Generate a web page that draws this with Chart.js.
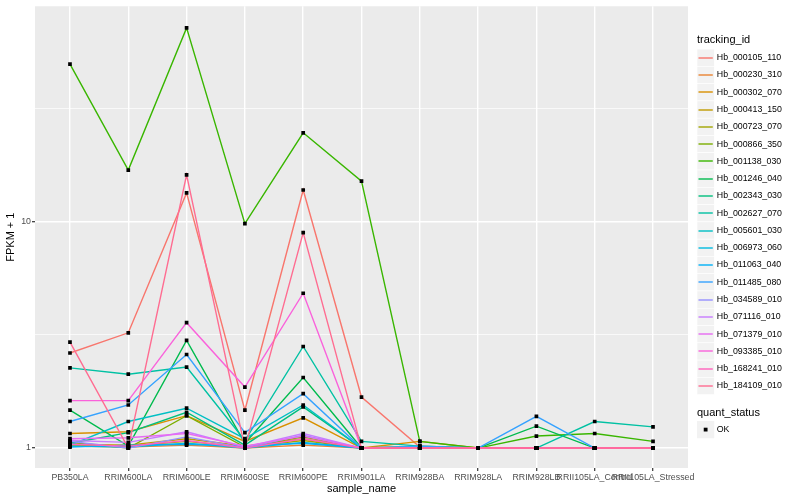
<!DOCTYPE html>
<html>
<head>
<meta charset="utf-8">
<script src="https://cdn.jsdelivr.net/npm/chart.js@4"></script>
<style>
  body { margin: 0; background: #fff; }
  #wrap { width: 800px; height: 500px; }
</style>
</head>
<body>
<div id="wrap"><canvas id="fpkmChart" width="800" height="500"></canvas></div>
<script>
const samples = ['PB350LA', 'RRIM600LA', 'RRIM600LE', 'RRIM600SE', 'RRIM600PE', 'RRIM901LA',
  'RRIM928BA', 'RRIM928LA', 'RRIM928LB', 'RRII105LA_Control', 'RRII105LA_Stressed'];

const trackingIds = ['Hb_000105_110', 'Hb_000230_310', 'Hb_000302_070', 'Hb_000413_150',
  'Hb_000723_070', 'Hb_000866_350', 'Hb_001138_030', 'Hb_001246_040', 'Hb_002343_030',
  'Hb_002627_070', 'Hb_005601_030', 'Hb_006973_060', 'Hb_011063_040', 'Hb_011485_080',
  'Hb_034589_010', 'Hb_071116_010', 'Hb_071379_010', 'Hb_093385_010', 'Hb_168241_010',
  'Hb_184109_010'];

// FPKM + 1, one array per tracking_id, in sample order
const hb000105 = [2.63, 3.23, 13.4, 1.47, 13.8, 1.68, 1.01, 1, 1, 1, 1];
const hb000230 = [1.02, 1.01, 1.03, 1.0, 1.03, 1, 1, 1, 1, 1, 1];
const hb000302 = [1.16, 1.18, 1.39, 1.07, 1.36, 1, 1.07, 1, 1, 1, 1];
const hb000413 = [1.04, 1.03, 1.10, 1.02, 1.10, 1, 1, 1, 1, 1, 1];
const hb000723 = [1.03, 1.02, 1.07, 1.01, 1.08, 1, 1.02, 1, 1, 1, 1];
const hb000866 = [1.06, 1.0, 1.39, 1.01, 1.12, 1, 1, 1, 1, 1, 1];
const hb001138 = [49.7, 16.9, 71.8, 9.8, 24.7, 15.1, 1.07, 1, 1.13, 1.16, 1.07];
const hb001246 = [1.47, 1.02, 2.99, 1.05, 2.05, 1, 1, 1, 1.25, 1, 1];
const hb002343 = [1.05, 1.17, 1.44, 1.03, 1.52, 1, 1, 1, 1, 1, 1];
const hb002627 = [2.26, 2.12, 2.28, 1.08, 2.81, 1.07, 1.02, 1, 1, 1.31, 1.24];
const hb005601 = [1.03, 1.31, 1.50, 1.10, 1.55, 1, 1, 1, 1, 1, 1];
const hb006973 = [1.02, 1.01, 1.05, 1.0, 1.06, 1, 1, 1, 1, 1, 1];
const hb011063 = [1.01, 1.03, 1.04, 1.02, 1.05, 1, 1, 1, 1, 1, 1];
const hb011485 = [1.31, 1.55, 2.59, 1.17, 1.74, 1, 1.02, 1, 1.38, 1, 1];
const hb034589 = [1.07, 1.0, 1.12, 1.0, 1.14, 1, 1, 1, 1, 1, 1];
const hb071116 = [1.08, 1.06, 1.18, 1.01, 1.16, 1, 1, 1, 1, 1, 1];
const hb071379 = [1.10, 1.11, 1.16, 1.02, 1.13, 1, 1, 1, 1, 1, 1];
const hb093385 = [1.62, 1.62, 3.58, 1.86, 4.83, 1, 1, 1, 1, 1, 1];
const hb168241 = [1.04, 1.02, 1.08, 1.0, 1.10, 1, 1, 1, 1, 1, 1];
const hb184109 = [2.94, 1.0, 16.1, 1.0, 8.95, 1, 1, 1, 1, 1, 1];

const seriesValues = [hb000105, hb000230, hb000302, hb000413, hb000723, hb000866, hb001138,
  hb001246, hb002343, hb002627, hb005601, hb006973, hb011063, hb011485, hb034589, hb071116,
  hb071379, hb093385, hb168241, hb184109];

const yTicks = [1, 3.1623, 10, 31.623];

// ggplot default hue palette for 20 levels
const colors = ['#F8766D', '#EA8331', '#D89000', '#C09B00', '#A3A500', '#7CAE00', '#39B600',
  '#00BB4E', '#00BF7D', '#00C1A3', '#00BFC4', '#00BAE0', '#00B0F6', '#35A2FF', '#9590FF',
  '#C77CFF', '#E76BF3', '#FA62DB', '#FF62BC', '#FF6C91'];

const FONT = '"Liberation Sans", Arial, sans-serif';
Chart.defaults.font.family = FONT;

const isMajor = (c) => c.tick && (c.tick.value === 1 || c.tick.value === 10);

const datasets = seriesValues.map((vals, i) => {
  return {
    label: trackingIds[i],
    data: vals.map((v, j) => ({ x: j, y: v })),
    borderColor: colors[i],
    backgroundColor: colors[i],
    borderWidth: 1.4,
    pointRadius: 0,
    tension: 0,
    order: 100 - i,
  };
});

// quant_status OK points, drawn on top of every line
datasets.push({
  label: 'OK',
  data: seriesValues.flatMap((vals) => vals.map((v, j) => ({ x: j, y: v }))),
  showLine: false,
  pointStyle: 'rect',
  pointRadius: 2.6,
  pointBackgroundColor: '#000',
  pointBorderWidth: 0,
  order: 0,
});

const panelBg = {
  id: 'panelBg',
  beforeDraw(chart) {
    const { ctx, chartArea: a } = chart;
    ctx.save();
    ctx.fillStyle = '#EBEBEB';
    ctx.fillRect(a.left, a.top, a.right - a.left, a.bottom - a.top);
    ctx.restore();
  },
};

const ggLegend = {
  id: 'ggLegend',
  afterDraw(chart) {
    const ctx = chart.ctx;
    const x0 = 697;
    const keySize = 17.28;
    ctx.save();
    ctx.textBaseline = 'middle';
    ctx.textAlign = 'left';
    ctx.fillStyle = '#000';
    ctx.font = '11px ' + FONT;
    ctx.fillText('tracking_id', x0, 40);
    trackingIds.forEach((id, i) => {
      const y = 57.7 + i * keySize;
      ctx.fillStyle = '#F2F2F2';
      ctx.fillRect(x0, y - keySize / 2, keySize, keySize);
      ctx.strokeStyle = '#fff';
      ctx.lineWidth = 0.6;
      ctx.strokeRect(x0, y - keySize / 2, keySize, keySize);
      const ly = Math.round(y);
      ctx.strokeStyle = colors[i];
      ctx.lineWidth = 1.4;
      ctx.beginPath();
      ctx.moveTo(x0 + 1.5, ly);
      ctx.lineTo(x0 + keySize - 1.5, ly);
      ctx.stroke();
      ctx.fillStyle = '#000';
      ctx.font = '8.8px ' + FONT;
      ctx.fillText(id, x0 + keySize + 2.5, y);
    });
    ctx.font = '11px ' + FONT;
    ctx.fillText('quant_status', x0, 412.7);
    const yk = 429.6;
    ctx.fillStyle = '#F2F2F2';
    ctx.fillRect(x0, yk - keySize / 2, keySize, keySize);
    ctx.fillStyle = '#000';
    ctx.fillRect(x0 + keySize / 2 - 1.9, yk - 1.9, 3.8, 3.8);
    ctx.font = '8.8px ' + FONT;
    ctx.fillText('OK', x0 + keySize + 2.5, yk);
    ctx.restore();
  },
};

const ctx = document.getElementById('fpkmChart').getContext('2d');

new Chart(ctx, {
  type: 'line',
  data: { datasets },
  plugins: [panelBg, ggLegend],
  options: {
    responsive: false,
    animation: false,
    events: [],
    layout: { padding: { top: 5, right: 112, left: 0, bottom: 0 } },
    plugins: {
      legend: { display: false },
      tooltip: { enabled: false },
    },
    scales: {
      x: {
        type: 'linear',
        min: -0.6,
        max: 10.6,
        afterBuildTicks: (scale) => {
          scale.ticks = samples.map((s, i) => ({ value: i }));
        },
        afterFit: (scale) => {
          scale.height = 32;
        },
        ticks: {
          autoSkip: false,
          maxRotation: 0,
          minRotation: 0,
          padding: 1,
          color: '#4D4D4D',
          font: { size: 8.8 },
          callback: (value) => samples[value],
        },
        grid: {
          color: '#FFFFFF',
          lineWidth: 1.4,
          tickColor: '#333333',
          tickLength: 3,
          tickWidth: 1.2,
        },
        border: { display: false },
        title: {
          display: true,
          text: 'sample_name',
          color: '#000',
          font: { size: 11 },
          padding: { top: 0, bottom: 4.4 },
        },
      },
      y: {
        type: 'logarithmic',
        min: 0.8165,
        max: 89.45,
        afterBuildTicks: (scale) => {
          scale.ticks = yTicks.map((v) => ({ value: v }));
        },
        afterFit: (scale) => {
          scale.width = 35;
        },
        ticks: {
          autoSkip: false,
          padding: 1,
          color: '#4D4D4D',
          font: { size: 8.8 },
          callback: (value) => (value === 1 || value === 10 ? String(value) : ''),
        },
        grid: {
          color: '#FFFFFF',
          lineWidth: (c) => (isMajor(c) ? 1.4 : 0.7),
          tickColor: (c) => (isMajor(c) ? '#333333' : 'rgba(0,0,0,0)'),
          tickLength: 3,
          tickWidth: 1.2,
        },
        border: { display: false },
        title: {
          display: true,
          text: 'FPKM + 1',
          color: '#000',
          font: { size: 11 },
          padding: { top: 4.4, bottom: 0 },
        },
      },
    },
  },
});
</script>
</body>
</html>
